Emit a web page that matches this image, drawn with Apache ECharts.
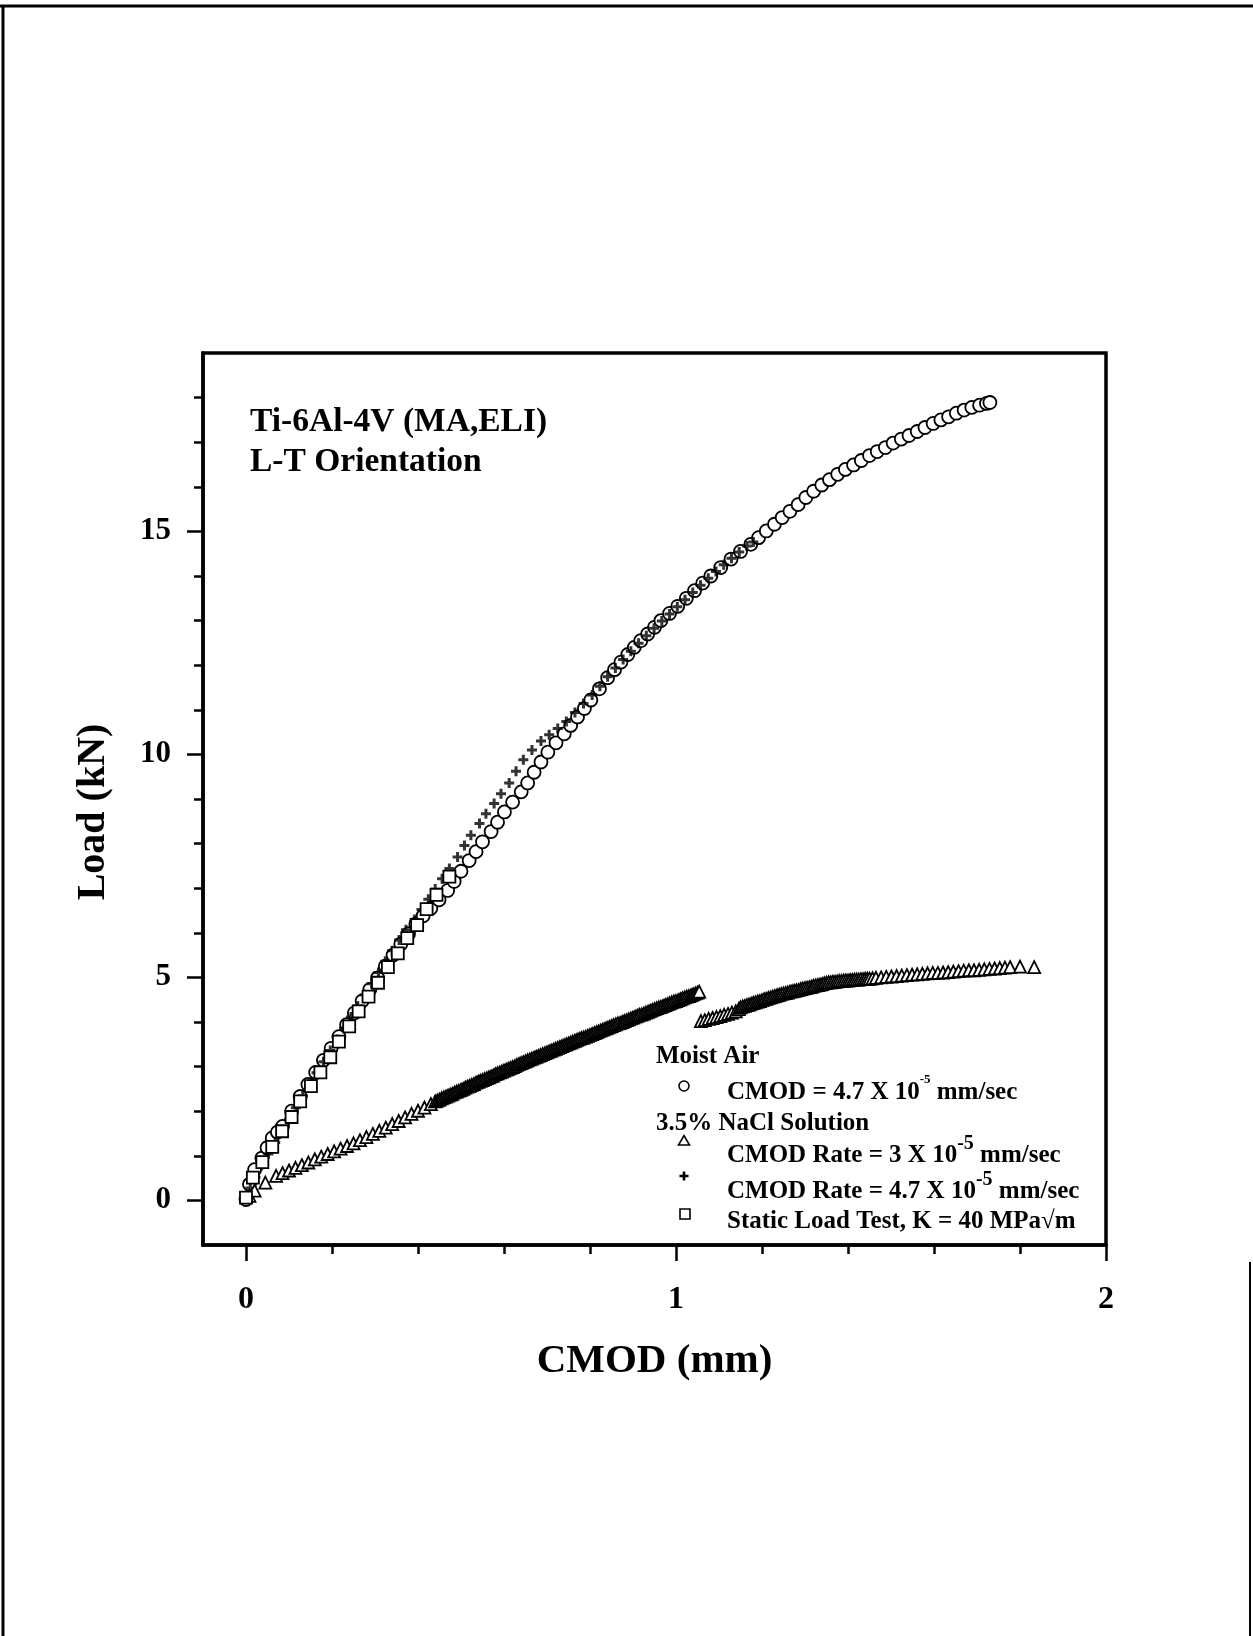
<!DOCTYPE html>
<html>
<head>
<meta charset="utf-8">
<script src="https://cdn.jsdelivr.net/npm/echarts@6/dist/echarts.min.js"></script>
<style>
  html, body { margin: 0; padding: 0; background: #fff; }
  #chart { width: 1253px; height: 1636px; }
</style>
</head>
<body>
<div id="chart"></div>
<script>
// ---------- Data ----------
// Moist Air, CMOD = 4.7e-5 mm/sec (open circles) : [CMOD mm, Load kN]
const moistAir = [
  [0.000,0.02],[0.008,0.36],[0.020,0.69],[0.037,0.95],[0.049,1.18],[0.061,1.40],[0.073,1.53],[0.085,1.66],
  [0.106,2.00],[0.126,2.33],[0.144,2.60],[0.162,2.87],[0.180,3.14],[0.198,3.41],[0.216,3.67],[0.234,3.94],
  [0.252,4.20],[0.270,4.47],[0.288,4.73],[0.306,4.99],[0.324,5.25],[0.342,5.50],[0.360,5.75],[0.378,5.98],
  [0.395,6.20],[0.412,6.38],[0.430,6.55],[0.449,6.74],[0.469,6.95],[0.484,7.15],[0.500,7.38],[0.519,7.62],
  [0.535,7.82],[0.550,8.04],[0.570,8.27],[0.585,8.48],[0.601,8.71],[0.620,8.93],[0.640,9.16],[0.655,9.36],
  [0.670,9.60],[0.686,9.83],[0.702,10.05],[0.721,10.26],[0.740,10.46],[0.755,10.65],[0.771,10.84],[0.787,11.03],
  [0.802,11.22],[0.822,11.47],[0.841,11.72],[0.857,11.90],[0.872,12.07],[0.888,12.24],[0.903,12.40],[0.918,12.55],
  [0.934,12.70],[0.950,12.85],[0.965,13.00],[0.985,13.16],[1.004,13.32],[1.024,13.50],[1.043,13.67],[1.062,13.84],
  [1.081,14.00],[1.104,14.19],[1.128,14.38],[1.150,14.55],[1.174,14.71],[1.192,14.86],[1.210,15.01],[1.229,15.16],
  [1.247,15.31],[1.265,15.45],[1.284,15.60],[1.302,15.76],[1.320,15.90],[1.339,16.04],[1.357,16.16],[1.376,16.28],
  [1.394,16.39],[1.413,16.49],[1.431,16.59],[1.450,16.70],[1.468,16.79],[1.487,16.88],[1.505,16.98],[1.524,17.07],
  [1.542,17.15],[1.561,17.24],[1.579,17.33],[1.598,17.42],[1.616,17.50],[1.634,17.57],[1.652,17.65],[1.670,17.72],
  [1.688,17.78],[1.706,17.83],[1.722,17.87],[1.730,17.89]
];

// 3.5% NaCl, CMOD rate = 3e-5 mm/sec (open triangles)
const naclSlow = [
  [0.008,0.10],[0.020,0.22],[0.045,0.40],
  [0.070,0.55],[0.085,0.61],[0.100,0.67],[0.115,0.73],[0.130,0.79],[0.145,0.85],[0.160,0.92],[0.175,0.98],
  [0.190,1.04],[0.205,1.10],[0.220,1.16],[0.235,1.22],[0.250,1.28],[0.265,1.35],[0.280,1.42],[0.295,1.49],
  [0.310,1.56],[0.325,1.63],[0.340,1.71],[0.355,1.78],[0.370,1.86],[0.385,1.94],[0.400,2.01],[0.415,2.08],[0.430,2.16],
  [0.440,2.22],[0.445,2.24],[0.450,2.26],[0.455,2.29],[0.460,2.31],[0.465,2.33],[0.470,2.35],[0.475,2.37],
  [0.480,2.39],[0.485,2.42],[0.490,2.44],[0.495,2.46],[0.500,2.48],[0.505,2.50],[0.510,2.53],[0.515,2.55],
  [0.520,2.57],[0.525,2.59],[0.530,2.61],[0.535,2.64],[0.540,2.66],[0.545,2.68],[0.550,2.70],[0.555,2.72],
  [0.560,2.74],[0.565,2.76],[0.570,2.78],[0.575,2.80],[0.580,2.83],[0.585,2.85],[0.590,2.87],[0.595,2.89],
  [0.600,2.91],[0.605,2.93],[0.610,2.95],[0.615,2.97],[0.620,2.99],[0.625,3.01],[0.630,3.04],[0.635,3.06],
  [0.640,3.08],[0.645,3.10],[0.650,3.12],[0.655,3.14],[0.660,3.16],[0.665,3.18],[0.670,3.20],[0.675,3.22],
  [0.680,3.24],[0.685,3.26],[0.690,3.28],[0.695,3.30],[0.700,3.32],[0.705,3.34],[0.710,3.36],[0.715,3.38],
  [0.720,3.40],[0.725,3.42],[0.730,3.44],[0.735,3.46],[0.740,3.48],[0.745,3.50],[0.750,3.52],[0.755,3.54],
  [0.760,3.56],[0.765,3.58],[0.770,3.60],[0.775,3.62],[0.780,3.64],[0.785,3.65],[0.790,3.67],[0.795,3.69],
  [0.800,3.71],[0.805,3.73],[0.810,3.75],[0.815,3.77],[0.820,3.79],[0.825,3.81],[0.830,3.83],[0.835,3.85],
  [0.840,3.87],[0.845,3.89],[0.850,3.91],[0.855,3.93],[0.860,3.95],[0.865,3.97],[0.870,3.98],[0.875,4.00],
  [0.880,4.02],[0.885,4.04],[0.890,4.06],[0.895,4.08],[0.900,4.10],[0.905,4.12],[0.910,4.14],[0.915,4.16],
  [0.920,4.17],[0.925,4.19],[0.930,4.21],[0.935,4.23],[0.940,4.25],[0.945,4.27],[0.950,4.29],[0.955,4.31],
  [0.960,4.33],[0.965,4.34],[0.970,4.36],[0.975,4.38],[0.980,4.40],[0.985,4.42],[0.990,4.44],[0.995,4.46],
  [1.000,4.47],[1.005,4.49],[1.010,4.51],[1.015,4.53],[1.020,4.55],[1.025,4.57],[1.030,4.58],[1.035,4.60],
  [1.040,4.62],[1.045,4.64],[1.050,4.66],[1.054,4.68],
  [1.058,4.02],[1.067,4.04],[1.076,4.07],[1.085,4.09],[1.094,4.11],[1.103,4.13],[1.112,4.16],[1.121,4.18],
  [1.130,4.21],[1.139,4.24],[1.146,4.29],
  [1.150,4.33],[1.155,4.35],[1.160,4.36],[1.165,4.38],[1.170,4.39],[1.175,4.41],[1.180,4.43],[1.185,4.44],
  [1.190,4.46],[1.195,4.47],[1.200,4.49],[1.205,4.51],[1.210,4.52],[1.215,4.54],[1.220,4.55],[1.225,4.57],
  [1.230,4.58],[1.235,4.60],[1.240,4.61],[1.245,4.63],[1.250,4.64],[1.255,4.65],[1.260,4.66],[1.265,4.68],
  [1.270,4.69],[1.275,4.70],[1.280,4.71],[1.285,4.72],[1.290,4.74],[1.295,4.75],[1.300,4.76],[1.305,4.77],
  [1.310,4.78],[1.315,4.79],[1.320,4.81],[1.325,4.82],[1.330,4.83],[1.335,4.84],[1.340,4.85],[1.345,4.87],
  [1.350,4.88],[1.355,4.89],[1.360,4.89],[1.365,4.90],[1.370,4.90],[1.375,4.91],[1.380,4.92],[1.385,4.92],
  [1.390,4.93],[1.395,4.93],[1.400,4.93],[1.405,4.94],[1.410,4.94],[1.415,4.95],[1.420,4.95],[1.425,4.95],
  [1.430,4.96],[1.435,4.96],[1.440,4.97],[1.445,4.97],[1.450,4.97],[1.457,4.98],
  [1.465,4.99],[1.477,5.00],[1.489,5.01],[1.501,5.02],[1.513,5.03],[1.525,5.04],[1.537,5.05],[1.549,5.06],
  [1.561,5.07],[1.573,5.08],[1.585,5.09],[1.597,5.10],[1.609,5.10],[1.621,5.11],[1.633,5.12],[1.645,5.13],
  [1.657,5.14],[1.669,5.15],[1.681,5.16],[1.693,5.16],[1.705,5.17],[1.717,5.18],[1.729,5.19],[1.741,5.20],
  [1.753,5.21],[1.765,5.22],[1.777,5.23],[1.800,5.24],[1.833,5.23]
];

// 3.5% NaCl, CMOD rate = 4.7e-5 mm/sec (plus signs)
const naclFast = [
  [0.000,0.03],[0.010,0.28],[0.022,0.52],[0.036,0.78],[0.052,1.04],[0.068,1.30],[0.084,1.56],[0.100,1.82],
  [0.116,2.08],[0.132,2.34],[0.148,2.60],[0.164,2.86],[0.180,3.11],[0.196,3.36],[0.212,3.61],[0.228,3.86],
  [0.244,4.11],[0.260,4.36],[0.276,4.61],[0.292,4.86],[0.308,5.11],[0.324,5.36],[0.340,5.60],[0.356,5.84],
  [0.372,6.07],[0.392,6.30],[0.408,6.52],[0.424,6.75],[0.440,6.98],[0.456,7.21],[0.473,7.44],[0.492,7.70],
  [0.508,7.96],[0.523,8.19],[0.543,8.45],[0.558,8.67],[0.577,8.90],[0.593,9.12],[0.612,9.36],[0.628,9.62],
  [0.645,9.88],[0.665,10.10],[0.686,10.30],[0.705,10.44],[0.725,10.58],[0.745,10.74],[0.765,10.94],[0.785,11.14],
  [0.805,11.33],[0.823,11.53],[0.841,11.74],[0.859,11.94],[0.877,12.13],[0.895,12.31],[0.913,12.49],[0.931,12.66],
  [0.949,12.83],[0.967,12.99],[0.985,13.15],[1.003,13.31],[1.021,13.47],[1.039,13.63],[1.057,13.79],[1.075,13.95],
  [1.093,14.10],[1.111,14.25],[1.129,14.40],[1.147,14.54],[1.165,14.67],[1.180,14.76]
];

// Static load test, K = 40 MPa sqrt(m) (open squares)
const staticLoad = [
  [0.000,0.06],[0.016,0.51],[0.038,0.86],[0.061,1.20],[0.084,1.55],[0.106,1.87],[0.126,2.22],[0.151,2.56],
  [0.173,2.87],[0.196,3.21],[0.216,3.56],[0.240,3.90],[0.262,4.24],[0.285,4.57],[0.307,4.88],[0.330,5.23],
  [0.353,5.54],[0.375,5.88],[0.398,6.17],[0.420,6.53],[0.443,6.85],[0.473,7.26]
];

// Axis ticks / labels
const xTickLabels = [0, 1, 2];
const xMinorTicks = [0.2, 0.4, 0.6, 0.8, 1.2, 1.4, 1.6, 1.8];
const yTickLabels = [0, 5, 10, 15];
const yMinorTicks = [1, 2, 3, 4, 6, 7, 8, 9, 11, 12, 13, 14, 16, 17, 18];

const titleLines = ['Ti-6Al-4V (MA,ELI)', 'L-T Orientation'];

// ---------- Chart ----------
const FONT = "'Liberation Serif', 'Times New Roman', serif";
const chart = echarts.init(document.getElementById('chart'), null, { renderer: 'canvas' });

const markerStyle = { color: '#fff', borderColor: '#000', borderWidth: 1.8, opacity: 1 };
const plusPath = 'path://M3.5,0h3v3.5h3.5v3h-3.5v3.5h-3v-3.5h-3.5v-3h3.5z';
const LF = 25;

const rich = (supSize, lh) => ({
  m: { fontSize: LF, fontWeight: 'bold', fontFamily: FONT, lineHeight: lh, verticalAlign: 'middle', fill: '#000' },
  s: { fontSize: supSize, fontWeight: 'bold', fontFamily: FONT, lineHeight: supSize, verticalAlign: 'top', fill: '#000' }
});
const legText = (x, y, text) => ({
  type: 'text', x: x, y: y, silent: true,
  style: { text: text, fill: '#000', font: 'bold ' + LF + 'px ' + FONT, verticalAlign: 'middle', align: 'left' }
});

const option = {
  animation: false,
  backgroundColor: '#fff',
  title: {
    text: titleLines.join('\n'),
    left: 245, top: 397,
    textStyle: { fontSize: 33.5, fontWeight: 'bold', fontFamily: FONT, color: '#000', lineHeight: 40 }
  },
  grid: {
    left: 203, top: 353, width: 903, height: 892,
    show: true, borderColor: '#000', borderWidth: 3.5, containLabel: false, outerBoundsMode: 'none'
  },
  xAxis: [
    {
      type: 'value', min: -0.1, max: 2, position: 'bottom',
      axisLine: { onZero: false, lineStyle: { color: '#000', width: 3.5 } },
      axisTick: { customValues: xTickLabels, length: 16, lineStyle: { color: '#000', width: 2.5 } },
      axisLabel: { customValues: xTickLabels, margin: 39, color: '#000', fontSize: 32, fontWeight: 'bold', fontFamily: FONT },
      splitLine: { show: false },
      name: 'CMOD (mm)', nameLocation: 'middle', nameGap: 96,
      nameTextStyle: { fontSize: 41, fontWeight: 'bold', fontFamily: FONT, color: '#000' }
    },
    {
      type: 'value', min: -0.1, max: 2, position: 'bottom',
      axisLine: { show: false, onZero: false },
      axisTick: { customValues: xMinorTicks, length: 9, lineStyle: { color: '#000', width: 2.5 } },
      axisLabel: { show: false }, splitLine: { show: false }
    }
  ],
  yAxis: [
    {
      type: 'value', min: -1, max: 19, position: 'left',
      axisLine: { onZero: false, lineStyle: { color: '#000', width: 3.5 } },
      axisTick: { customValues: yTickLabels, length: 16, lineStyle: { color: '#000', width: 2.5 } },
      axisLabel: { customValues: yTickLabels, margin: 32, color: '#000', fontSize: 31, fontWeight: 'bold', fontFamily: FONT },
      splitLine: { show: false },
      name: 'Load (kN)', nameLocation: 'middle', nameGap: 89, nameRotate: 90,
      nameTextStyle: { fontSize: 40, fontWeight: 'bold', fontFamily: FONT, color: '#000', padding: [0, 26, 0, 0] }
    },
    {
      type: 'value', min: -1, max: 19, position: 'left',
      axisLine: { show: false, onZero: false },
      axisTick: { customValues: yMinorTicks, length: 9, lineStyle: { color: '#000', width: 2.5 } },
      axisLabel: { show: false }, splitLine: { show: false }
    }
  ],
  series: [
    { name: 'Moist Air', type: 'scatter', data: moistAir, symbol: 'circle', symbolSize: 13, itemStyle: markerStyle, z: 2 },
    { name: 'NaCl 4.7e-5', type: 'scatter', data: naclFast, symbol: plusPath, symbolKeepAspect: true, symbolSize: 10,
      itemStyle: { color: '#000', borderWidth: 0 }, z: 3 },
    { name: 'NaCl 3e-5', type: 'scatter', data: naclSlow, symbol: 'triangle', symbolSize: 12, itemStyle: markerStyle, z: 4 },
    { name: 'Static', type: 'scatter', data: staticLoad, symbol: 'rect', symbolSize: 12, itemStyle: markerStyle, z: 5 }
  ],
  graphic: [
    // page border lines of the scanned sheet
    { type: 'line', silent: true, shape: { x1: 0, y1: 6, x2: 1253, y2: 6 }, style: { stroke: '#000', lineWidth: 3 } },
    { type: 'line', silent: true, shape: { x1: 3, y1: 5, x2: 3, y2: 1636 }, style: { stroke: '#000', lineWidth: 3 } },
    { type: 'line', silent: true, shape: { x1: 1250, y1: 1262, x2: 1250, y2: 1636 }, style: { stroke: '#000', lineWidth: 2 } },
    // legend
    legText(656, 1057, 'Moist Air'),
    { type: 'circle', silent: true, shape: { cx: 684, cy: 1086, r: 5 }, style: { fill: '#fff', stroke: '#000', lineWidth: 1.6 } },
    { type: 'text', x: 727, y: 1093, silent: true,
      style: { text: '{m|CMOD = 4.7 X 10}{s|-5}{m| mm/sec}', rich: rich(13, 40), verticalAlign: 'middle', align: 'left' } },
    legText(656, 1124, '3.5% NaCl Solution'),
    { type: 'polygon', silent: true, shape: { points: [[678.5, 1145], [689.5, 1145], [684, 1135.5]] }, style: { fill: '#fff', stroke: '#000', lineWidth: 1.6 } },
    { type: 'text', x: 727, y: 1156, silent: true,
      style: { text: '{m|CMOD Rate = 3 X 10}{s|-5}{m| mm/sec}', rich: rich(20, 44), verticalAlign: 'middle', align: 'left' } },
    { type: 'rect', silent: true, shape: { x: 682.7, y: 1171.5, width: 2.6, height: 9 }, style: { fill: '#000' } },
    { type: 'rect', silent: true, shape: { x: 679.5, y: 1174.7, width: 9, height: 2.6 }, style: { fill: '#000' } },
    { type: 'text', x: 727, y: 1192, silent: true,
      style: { text: '{m|CMOD Rate = 4.7 X 10}{s|-5}{m| mm/sec}', rich: rich(20, 44), verticalAlign: 'middle', align: 'left' } },
    { type: 'rect', silent: true, shape: { x: 680, y: 1209, width: 10, height: 10 }, style: { fill: '#fff', stroke: '#000', lineWidth: 1.6 } },
    legText(727, 1222, 'Static Load Test, K = 40 MPa\u221Am')
  ]
};
chart.setOption(option);
</script>
</body>
</html>
